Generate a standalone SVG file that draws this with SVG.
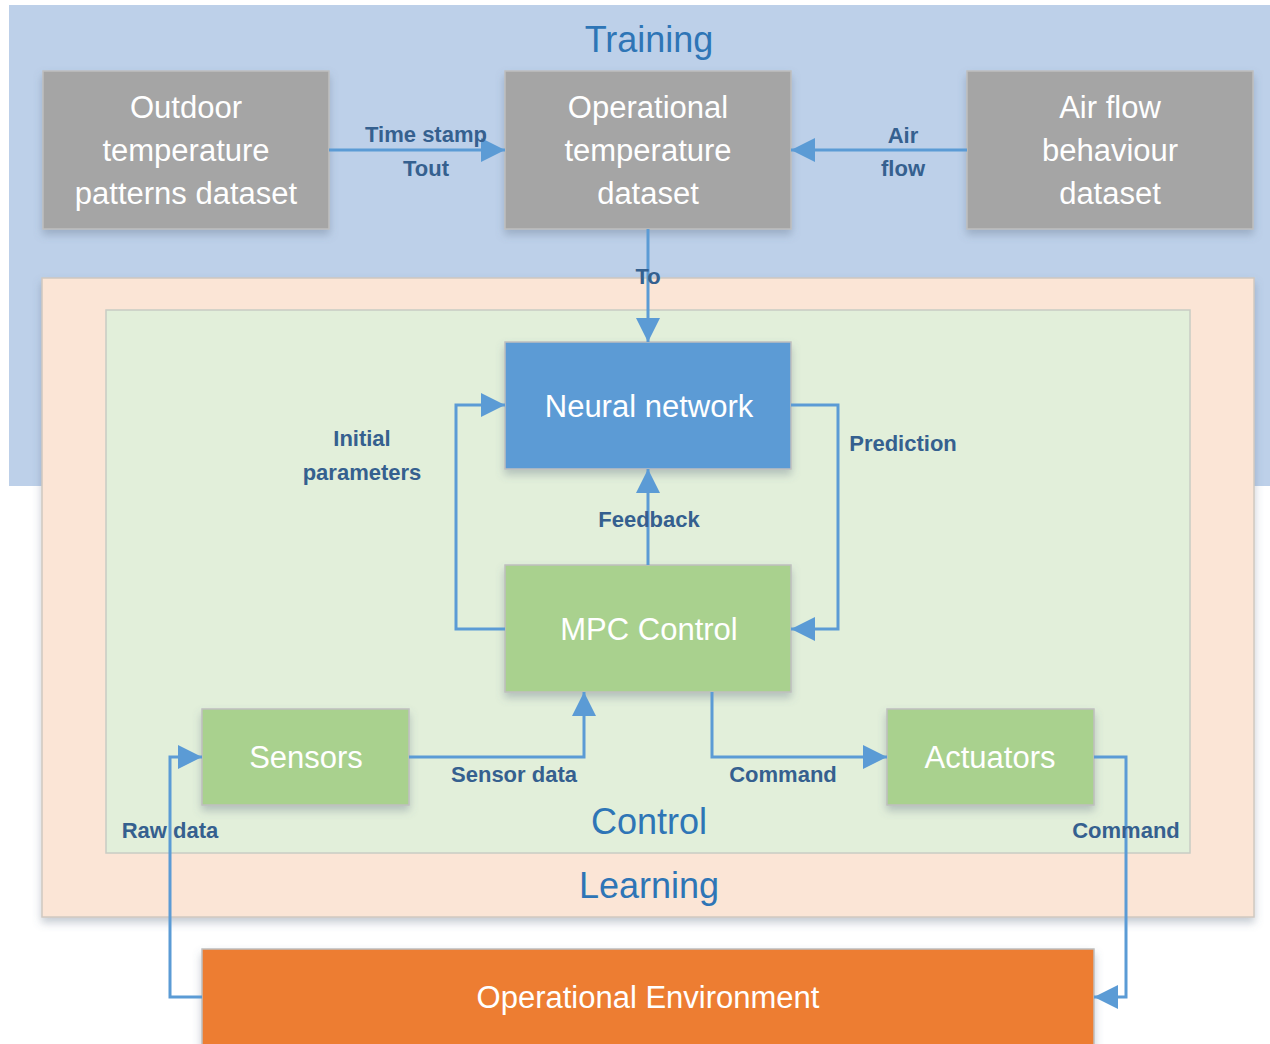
<svg xmlns="http://www.w3.org/2000/svg" width="1270" height="1044" viewBox="0 0 1270 1044">
<defs>
<filter id="sh" x="-10%" y="-10%" width="130%" height="140%">
<feDropShadow dx="0" dy="5" stdDeviation="4" flood-color="#5a6a80" flood-opacity="0.35"/>
</filter>
<marker id="ah" markerUnits="userSpaceOnUse" markerWidth="26" markerHeight="24" refX="24" refY="12" orient="auto">
<path d="M0,0 L24,12 L0,24 Z" fill="#5B9BD5"/>
</marker>
<style>
.node{stroke:#bfbfbf;stroke-width:1.5;filter:url(#sh)}
.grey{fill:#A5A5A5}
.nt{font-family:"Liberation Sans","Open Sans",sans-serif;font-size:31px;fill:#ffffff;text-anchor:middle}
.lbl{font-family:"Liberation Sans","Open Sans",sans-serif;font-size:22px;font-weight:bold;fill:#35608F;text-anchor:middle}
.ttl{font-family:"Liberation Sans","Open Sans",sans-serif;font-size:36px;fill:#2E75B6;text-anchor:middle}
.c{fill:none;stroke:#5B9BD5;stroke-width:3;marker-end:url(#ah)}
</style>
</defs>
<rect width="1270" height="1044" fill="#ffffff"/>
<g id="training">
<rect x="9" y="5" width="1265" height="481" fill="#BDD0E9"/>
<text class="ttl" x="649" y="52">Training</text>
</g>
<g id="learning">
<rect x="42" y="278" width="1212" height="639" fill="#FBE5D6" stroke="#d0c8c0" stroke-width="1.5" filter="url(#sh)"/>
<text class="ttl" x="649" y="898">Learning</text>
</g>
<g id="control">
<rect x="106" y="310" width="1084" height="543" fill="#E2EFDA" stroke="#c8ccc4" stroke-width="1.5"/>
<text class="ttl" x="649" y="834">Control</text>
</g>
<g id="outdoor">
<rect class="node grey" x="43" y="71" width="286" height="158"/>
<text class="nt" x="186" y="118">Outdoor</text>
<text class="nt" x="186" y="161">temperature</text>
<text class="nt" x="186" y="204">patterns dataset</text>
</g>
<g id="optemp">
<rect class="node grey" x="505" y="71" width="286" height="158"/>
<text class="nt" x="648" y="118">Operational</text>
<text class="nt" x="648" y="161">temperature</text>
<text class="nt" x="648" y="204">dataset</text>
</g>
<g id="airflow">
<rect class="node grey" x="967" y="71" width="286" height="158"/>
<text class="nt" x="1110" y="118">Air flow</text>
<text class="nt" x="1110" y="161">behaviour</text>
<text class="nt" x="1110" y="204">dataset</text>
</g>
<g id="neural">
<rect class="node" x="505" y="342" width="286" height="127" fill="#5B9BD5"/>
<text class="nt" x="649" y="417">Neural network</text>
</g>
<g id="mpc">
<rect class="node" x="505" y="565" width="286" height="127" fill="#A9D18E"/>
<text class="nt" x="649" y="640">MPC Control</text>
</g>
<g id="sensors">
<rect class="node" x="202" y="709" width="207" height="96" fill="#A9D18E"/>
<text class="nt" x="306" y="768">Sensors</text>
</g>
<g id="actuators">
<rect class="node" x="887" y="709" width="207" height="96" fill="#A9D18E"/>
<text class="nt" x="990" y="768">Actuators</text>
</g>
<g id="environment">
<rect class="node" x="202" y="949" width="892" height="100" fill="#ED7D31"/>
<text class="nt" x="648" y="1008">Operational Environment</text>
</g>
<g id="connectors">
<path class="c" d="M329,150 L505,150"/>
<path class="c" d="M967,150 L791,150"/>
<path class="c" d="M648,229 L648,342"/>
<path class="c" d="M648,565 L648,469"/>
<path class="c" d="M505,629 L456,629 L456,405 L505,405"/>
<path class="c" d="M791,405 L838,405 L838,629 L791,629"/>
<path class="c" d="M409,757 L584,757 L584,692"/>
<path class="c" d="M712,692 L712,757 L887,757"/>
<path class="c" d="M1094,757 L1126,757 L1126,997 L1094,997"/>
<path class="c" d="M202,997 L170,997 L170,757 L202,757"/>
</g>
<g id="labels">
<text class="lbl" x="426" y="142">Time stamp</text>
<text class="lbl" x="426" y="176">Tout</text>
<text class="lbl" x="903" y="143">Air</text>
<text class="lbl" x="903" y="176">flow</text>
<text class="lbl" x="648" y="284">To</text>
<text class="lbl" x="362" y="446">Initial</text>
<text class="lbl" x="362" y="480">parameters</text>
<text class="lbl" x="903" y="451">Prediction</text>
<text class="lbl" x="649" y="527">Feedback</text>
<text class="lbl" x="514" y="782">Sensor data</text>
<text class="lbl" x="783" y="782">Command</text>
<text class="lbl" x="170" y="838">Raw data</text>
<text class="lbl" x="1126" y="838">Command</text>
</g>
</svg>
